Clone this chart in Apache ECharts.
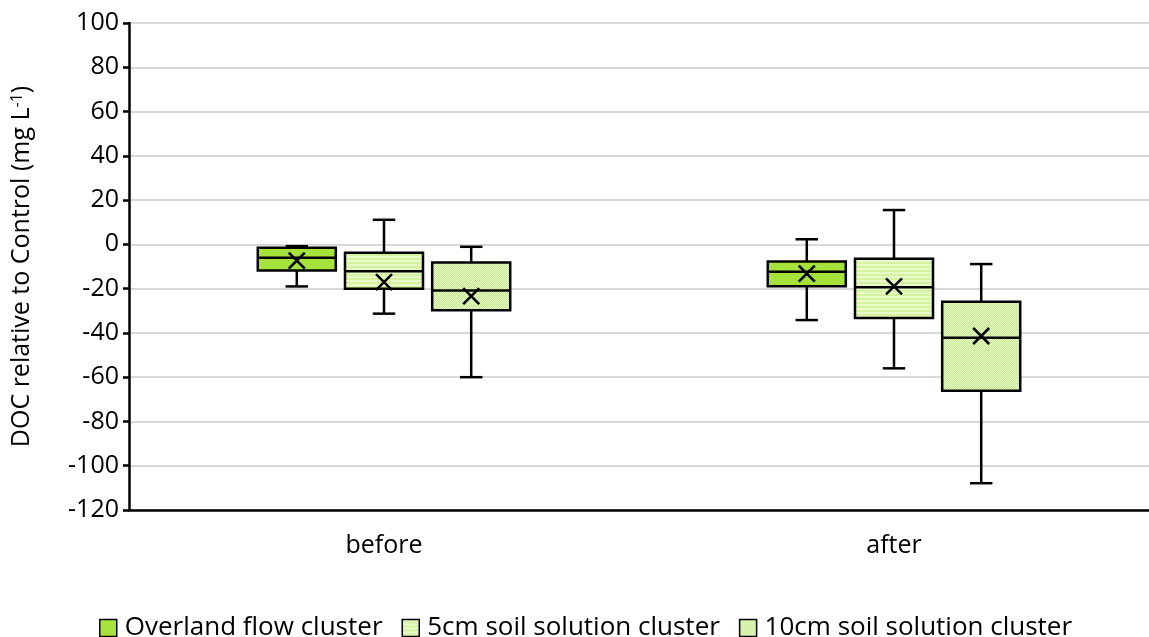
<!DOCTYPE html>
<html>
<head>
<meta charset="utf-8">
<script src="https://cdn.jsdelivr.net/npm/echarts@6/dist/echarts.min.js"></script>
<style>
html,body{margin:0;padding:0;background:#fff;}
#chart{width:1149px;height:637px;}
</style>
</head>
<body>
<div id="chart"></div>
<script>
// Data: [min, q1, median, q3, max, mean] per category
var categories = ['before', 'after'];
var seriesNames = ['Overland flow cluster', '5cm soil solution cluster', '10cm soil solution cluster'];
var overland = [[-19.0, -11.8, -6.0, -1.5, -0.8, -7.3], [-34.2, -18.9, -12.4, -7.7, 2.3, -13.2]];
var soil5cm = [[-31.3, -20.0, -12.1, -3.8, 11.1, -17.1], [-56.0, -33.3, -19.4, -6.5, 15.5, -19.0]];
var soil10cm = [[-60.0, -29.8, -20.8, -8.2, -1.1, -23.4], [-107.9, -66.1, -42.2, -25.9, -8.9, -41.4]];
var yTicks = [-120, -100, -80, -60, -40, -20, 0, 20, 40, 60, 80, 100];

function makeStripes() {
  var c = document.createElement('canvas');
  c.width = 8; c.height = 4;
  var g = c.getContext('2d');
  g.fillStyle = '#d3f39e'; g.fillRect(0, 0, 8, 4);
  g.fillStyle = '#e8fac8'; g.fillRect(0, 0, 8, 2);
  return c;
}
function makeHatch() {
  var c = document.createElement('canvas');
  c.width = 4; c.height = 4;
  var g = c.getContext('2d');
  g.fillStyle = '#eafbd0'; g.fillRect(0, 0, 4, 4);
  g.fillStyle = '#c2ec86';
  for (var i = 0; i < 4; i++) { g.fillRect(i, 3 - i, 1, 1); g.fillRect((i + 2) % 4, 3 - i, 1, 1); }
  return c;
}
var fills = [
  '#a6e33a',
  { image: makeStripes(), repeat: 'repeat' },
  { image: makeHatch(), repeat: 'repeat' }
];
var allData = [overland, soil5cm, soil10cm];

function makeRender(k) {
  return function (params, api) {
    var cat = api.value(0);
    var band = api.size([1, 0])[0];
    var cx = api.coord([cat, 0])[0] + (k - 1) * band * 0.171;
    var w = band * 0.153, cap = band * 0.022;
    var yMin = api.coord([cat, api.value(1)])[1];
    var yQ1 = api.coord([cat, api.value(2)])[1];
    var yMed = api.coord([cat, api.value(3)])[1];
    var yQ3 = api.coord([cat, api.value(4)])[1];
    var yMax = api.coord([cat, api.value(5)])[1];
    var yMean = api.coord([cat, api.value(6)])[1];
    var ls = { stroke: '#000', lineWidth: 2.5, fill: null };
    var m = 8;
    return {
      type: 'group',
      children: [
        { type: 'line', shape: { x1: cx, y1: yMax, x2: cx, y2: yQ3 }, style: ls },
        { type: 'line', shape: { x1: cx, y1: yQ1, x2: cx, y2: yMin }, style: ls },
        { type: 'line', shape: { x1: cx - cap, y1: yMax, x2: cx + cap, y2: yMax }, style: ls },
        { type: 'line', shape: { x1: cx - cap, y1: yMin, x2: cx + cap, y2: yMin }, style: ls },
        { type: 'rect', shape: { x: cx - w / 2, y: yQ3, width: w, height: yQ1 - yQ3 },
          style: { fill: fills[k], stroke: '#000', lineWidth: 2.5 } },
        { type: 'line', shape: { x1: cx - w / 2, y1: yMed, x2: cx + w / 2, y2: yMed }, style: ls },
        { type: 'line', shape: { x1: cx - m, y1: yMean - m, x2: cx + m, y2: yMean + m }, style: ls },
        { type: 'line', shape: { x1: cx - m, y1: yMean + m, x2: cx + m, y2: yMean - m }, style: ls }
      ]
    };
  };
}

var series = seriesNames.map(function (name, k) {
  return {
    name: name,
    type: 'custom',
    renderItem: makeRender(k),
    itemStyle: { color: fills[k], borderColor: '#000', borderWidth: 1.5 },
    encode: { x: 0, y: [1, 2, 3, 4, 5, 6] },
    data: allData[k].map(function (d, i) { return [i].concat(d); }),
    z: 5
  };
});

var chart = echarts.init(document.getElementById('chart'), null, { renderer: 'canvas' });
var font = '"Open Sans", "Noto Sans", sans-serif';
chart.setOption({
  animation: false,
  backgroundColor: '#fff',
  grid: { left: 129, right: -3, top: 23, bottom: 127, containLabel: false },
  legend: {
    left: 94, top: 610,
    itemWidth: 17, itemHeight: 17, itemGap: 19,
    icon: 'rect',
    textStyle: { fontFamily: font, fontSize: 26, color: '#000', padding: [0, 0, 0, 3] },
    data: seriesNames.map(function (n, k) {
      return { name: n, itemStyle: { color: fills[k], borderColor: '#000', borderWidth: 1.5 } };
    })
  },
  xAxis: {
    type: 'category',
    data: categories,
    axisLine: { onZero: false, lineStyle: { color: '#000', width: 2.5 } },
    axisTick: { show: false },
    axisLabel: { fontFamily: font, fontSize: 25, color: '#000', margin: 23 },
    splitLine: { show: false }
  },
  yAxis: {
    type: 'value',
    min: yTicks[0], max: yTicks[yTicks.length - 1], interval: 20,
    name: '{a|DOC relative to Control (mg L}{s|-1}{a|)}',
    nameLocation: 'middle', nameGap: 94, nameRotate: 90,
    nameTextStyle: {
      rich: {
        a: { fontFamily: font, fontSize: 25, color: '#000' },
        s: { fontFamily: font, fontSize: 16, color: '#000', verticalAlign: 'top', padding: [0, 0, 10, 0] }
      }
    },
    axisLine: { show: true, lineStyle: { color: '#000', width: 2.5 } },
    axisTick: { show: true, length: 6, lineStyle: { color: '#000', width: 2.5 } },
    axisLabel: { fontFamily: font, fontSize: 25, color: '#000', margin: 10 },
    splitLine: { show: true, lineStyle: { color: '#d9d9d9', width: 2 } }
  },
  series: series
});
</script>
</body>
</html>
